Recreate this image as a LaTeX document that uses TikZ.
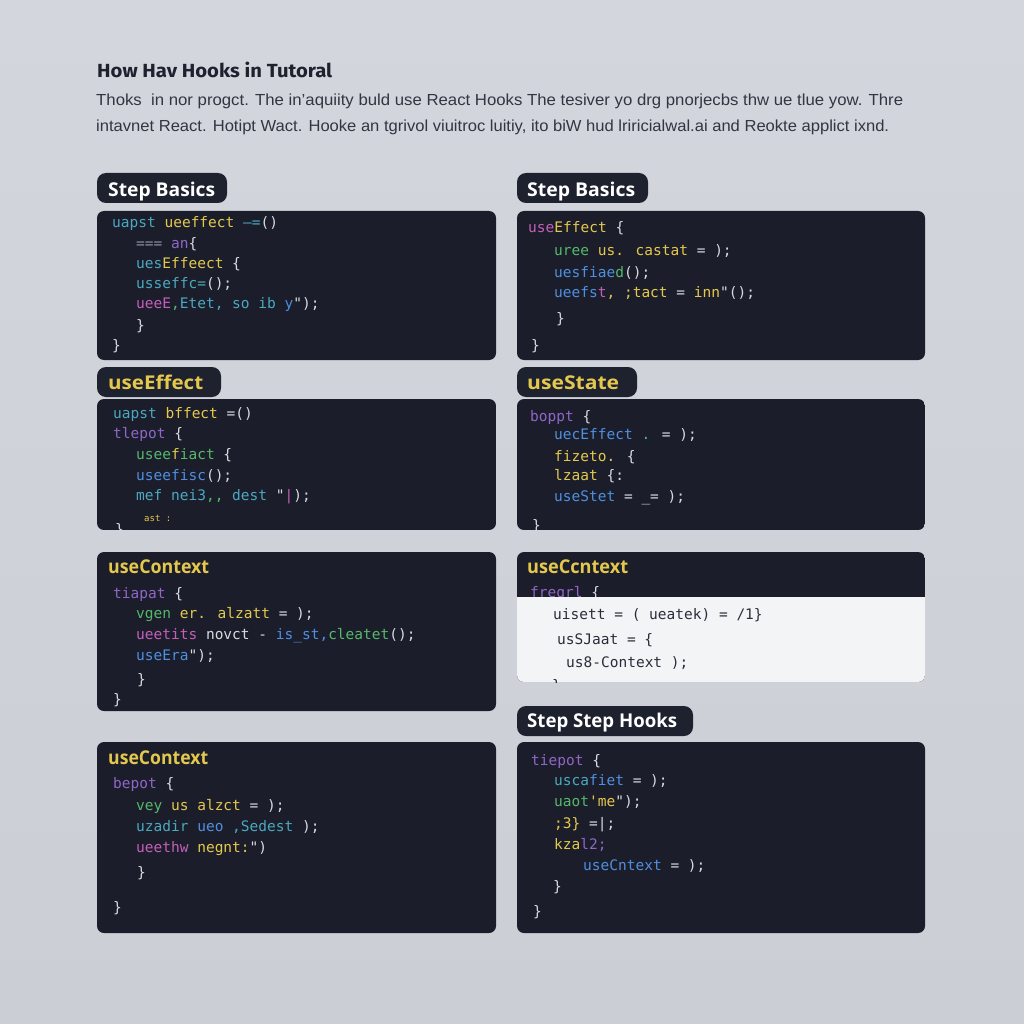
\documentclass[tikz,border=0pt]{standalone}
\usepackage{graphicx}
\usepackage{fontspec}
\setmainfont{Liberation Sans}
\newfontfamily\headfont{Open Sans}
\newfontfamily\titlefont{Fira Sans}
\newfontfamily\codefont{DejaVu Sans Mono}
\definecolor{bgtop}{RGB}{211,214,220}
\definecolor{bgbot}{RGB}{203,206,213}
\definecolor{panel}{RGB}{27,30,42}
\definecolor{pill}{RGB}{30,33,46}
\definecolor{titlec}{RGB}{30,34,46}
\definecolor{subc}{RGB}{50,54,66}
\definecolor{cteal}{RGB}{74,168,192}
\definecolor{cyellow}{RGB}{228,200,78}
\definecolor{cpurple}{RGB}{143,102,201}
\definecolor{cgreen}{RGB}{85,184,106}
\definecolor{cblue}{RGB}{79,143,224}
\definecolor{cmag}{RGB}{196,95,184}
\definecolor{cwhite}{RGB}{216,218,224}
\definecolor{cgray}{RGB}{138,143,160}
\definecolor{cdark}{RGB}{43,46,58}
\definecolor{wpanel}{RGB}{243,244,246}
\newcommand\Ct{\color{cteal}}
\newcommand\Cy{\color{cyellow}}
\newcommand\Cp{\color{cpurple}}
\newcommand\Cg{\color{cgreen}}
\newcommand\Cb{\color{cblue}}
\newcommand\Cm{\color{cmag}}
\newcommand\Cgr{\color{cgray}}
\newcounter{cln}
\tikzset{
  codebox/.style={fill=panel, rounded corners=7pt},
  pillbox/.style={fill=pill, rounded corners=9pt},
  codetxt/.style={anchor=base west, inner sep=0pt, text=cwhite,
    font=\codefont\fontsize{14.5}{17}\selectfont},
  headtxt/.style={anchor=base west, inner sep=0pt}
}
\newcommand\codeln[3]{\stepcounter{cln}\node[codetxt] (c\thecln) at (#1,#2) {#3};}
\newcommand\hdtext[6]{\node[headtxt,text=#4] (#1) at (#2,#3)
  {\resizebox{#5}{\height}{\headfont\bfseries\fontsize{19}{22}\selectfont #6}};}
\begin{document}
\begin{tikzpicture}[x=1pt,y=-1pt]
\useasboundingbox (0,0) rectangle (1024,1024);
\shade[top color=bgtop,bottom color=bgbot] (0,0) rectangle (1024,1024);

% title and intro
\node[headtxt,text=titlec] (title) at (97,78)
  {\resizebox{235pt}{\height}{\titlefont\bfseries\fontsize{19}{22}\selectfont How Hav Hooks in Tutoral}};
\node[headtxt,text=subc] (sub1) at (96,106)
  {\resizebox{807pt}{\height}{\fontsize{16}{19}\selectfont Thoks\ \ in nor progct. The in'aquiity buld use React Hooks The tesiver yo drg pnorjecbs thw ue tlue yow. Thre}};
\node[headtxt,text=subc] (sub2) at (96,132)
  {\resizebox{793pt}{\height}{\fontsize{16}{19}\selectfont intavnet React. Hotipt Wact. Hooke an tgrivol viuitroc luitiy, ito biW hud lriricialwal.ai and Reokte applict ixnd.}};

% ---------- row 1 left
\path[pillbox] (97,173) rectangle (227,203);
\hdtext{h1}{108}{197}{white}{107pt}{Step Basics}
\path[codebox] (97,211) rectangle (496,360);
\codeln{112}{228}{{\Ct uapst }{\Cy ueeffect }{\Ct —=}()}
\codeln{136}{248}{{\Cgr === }{\Cp an}\{}
\codeln{136}{268}{{\Ct ues}{\Cy Effeect }\{}
\codeln{136}{288}{{\Ct usseffc=}();}
\codeln{136}{308}{{\Cm ueeE}{\Cg ,}{\Ct Etet, so ib }{\Cb y}");}
\codeln{136}{330}{\}}
\codeln{112}{350}{\}}

% ---------- row 1 right
\path[pillbox] (517,173) rectangle (648,203);
\hdtext{h2}{527}{197}{white}{108pt}{Step Basics}
\path[codebox] (517,211) rectangle (925,360);
\codeln{528}{233}{{\Cm use}{\Cy Effect }\{}
\codeln{554}{255}{{\Cg uree }{\Cy us. castat }= );}
\codeln{554}{277}{{\Cb uesfiae}{\Cg d}();}
\codeln{554}{297}{{\Cb ueefs}{\Cm t}{\Cy , ;tact }= {\Cy inn}"();}
\codeln{556}{323}{\}}
\codeln{531}{350}{\}}

% ---------- row 2 left
\path[pillbox] (97,367) rectangle (221,397);
\hdtext{h3}{108}{389}{cyellow}{95pt}{useEffect}
\begin{scope}
\clip[rounded corners=7pt] (97,399) rectangle (496,530);
\fill[panel] (97,399) rectangle (496,530);
\codeln{113}{418}{{\Ct uapst }{\Cy bffect }=()}
\codeln{113}{438}{{\Cp tlepot }\{}
\codeln{136}{459}{{\Cg usee}{\Cy f}{\Cg iact }\{}
\codeln{136}{480}{{\Cb useefisc}();}
\codeln{136}{500}{{\Ct mef nei3}{\Cg ,, }{\Ct dest }"{\Cm |});}
\stepcounter{cln}
\node[codetxt,text=cyellow,font=\codefont\fontsize{9}{10}\selectfont] (c\thecln) at (144,521) {ast :};
\codeln{115}{534}{\}}
\end{scope}

% ---------- row 2 right
\path[pillbox] (517,367) rectangle (637,397);
\hdtext{h4}{527}{389}{cyellow}{92pt}{useState}
\begin{scope}
\clip[rounded corners=7pt] (517,399) rectangle (925,530);
\fill[panel] (517,399) rectangle (925,530);
\codeln{530}{421}{{\Cp boppt }\{}
\codeln{554}{439}{{\Cb uecEffect }{\Cg . }= );}
\codeln{554}{461}{{\Cy fizeto. }\{}
\codeln{554}{480}{{\Cy lzaat }\{:}
\codeln{554}{501}{{\Cb useStet }= \_= );}
\codeln{532}{530}{\}}
\end{scope}

% ---------- row 3 left
\path[codebox] (97,552) rectangle (496,711);
\hdtext{h5}{108}{573}{cyellow}{101pt}{useContext}
\codeln{113}{598}{{\Cp tiapat }\{}
\codeln{136}{618}{{\Cg vgen }{\Cy er. alzatt }= );}
\codeln{136}{639}{{\Cm ueetits }novct - {\Cb is\_st,}{\Cg cleatet}();}
\codeln{136}{660}{{\Cb useEra}");}
\codeln{137}{684}{\}}
\codeln{113}{704}{\}}

% ---------- row 3 right
\begin{scope}
\clip[rounded corners=7pt] (517,552) rectangle (925,682);
\fill[panel] (517,552) rectangle (925,682);
\codeln{530}{597}{{\Cp freqrl }\{}
\fill[wpanel] (517,597) rectangle (925,682);
\codeln{553}{619}{\color{cdark}uisett = ( ueatek) = /1\}}
\codeln{557}{644}{\color{cdark}usSJaat = \{}
\codeln{566}{667}{\color{cdark}us8-Context );}
\codeln{552}{690}{\color{cdark}\}}
\end{scope}
\hdtext{h6}{527}{573}{cyellow}{101pt}{useCcntext}

% ---------- pill row 4 right
\path[pillbox] (517,706) rectangle (693,736);
\hdtext{h7}{527}{727}{white}{150pt}{Step Step Hooks}

% ---------- row 4 left
\path[codebox] (97,742) rectangle (496,933);
\hdtext{h8}{108}{764}{cyellow}{100pt}{useContext}
\codeln{113}{788}{{\Cp bepot }\{}
\codeln{136}{810}{{\Cg vey }{\Cy us alzct }= );}
\codeln{136}{831}{{\Ct uzadir }{\Cb ueo }{\Ct ,Sedest });}
\codeln{136}{852}{{\Cm ueethw }{\Cy negnt:}")}
\codeln{137}{877}{\}}
\codeln{113}{912}{\}}

% ---------- row 4 right
\path[codebox] (517,742) rectangle (925,933);
\codeln{531}{765}{{\Cp tiepot }\{}
\codeln{554}{785}{{\Ct usca}{\Cb fiet }= );}
\codeln{554}{806}{{\Cg uaot}{\Cy 'me}");}
\codeln{554}{828}{{\Cy ;3\} }=|;}
\codeln{554}{849}{{\Cy kza}{\Cp l2;}}
\codeln{583}{870}{{\Cb useCntext }= );}
\codeln{553}{891}{\}}
\codeln{533}{916}{\}}
\end{tikzpicture}
\end{document}
